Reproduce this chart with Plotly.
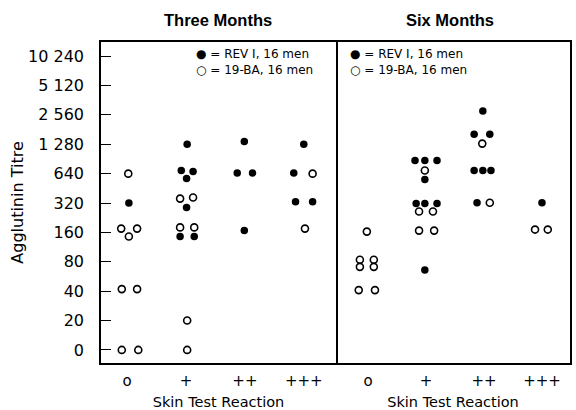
import plotly.graph_objects as go

# ---------------- data ----------------
tick_titres = [10, 20, 40, 80, 160, 320, 640, 1280, 2560, 5120, 10240]
tick_labels = ["0", "20", "40", "80", "160", "320", "640", "1 280", "2 560", "5 120", "10 240"]
reactions = ["o", "+", "++", "+++"]
reaction_pos = [0, 1, 2, 3]

# Three months, REV I (filled) -- x = skin reaction index (with plotting spread), y = titre
three_rev_x = [1.02, 1.99, 3.00, 0.92, 1.12, 1.01, 1.87, 2.13, 2.83, 1.01, 0.03, 2.86, 3.15, 0.90, 1.14, 1.99]
three_rev_y = [1280, 1370, 1280, 690, 675, 572, 650, 650, 650, 288, 320, 330, 330, 145, 145, 167]
# Three months, 19-BA (open)
three_ba_x = [0.02, 3.15, 0.90, 1.12, -0.10, 0.17, 0.03, 0.90, 1.14, 3.02, -0.09, 0.17, 1.02, -0.09, 0.19, 1.02]
three_ba_y = [640, 640, 355, 365, 175, 175, 145, 180, 180, 175, 42, 42, 20, 10, 10, 10]

# Six months, REV I (filled)
six_rev_x = [1.98, 1.83, 2.10, 0.81, 0.98, 1.19, 0.98, 1.83, 1.98, 2.12, 0.83, 0.98, 1.19, 1.88, 3.00, 0.98]
six_rev_y = [2800, 1620, 1620, 875, 875, 875, 558, 690, 690, 690, 316, 316, 316, 322, 322, 66]
# Six months, 19-BA (open)
six_ba_x = [1.97, 0.98, 0.88, 1.12, 2.10, -0.02, 0.88, 1.14, 2.88, 3.10, -0.14, 0.10, -0.14, 0.10, -0.16, 0.12]
six_ba_y = [1300, 690, 262, 262, 322, 163, 167, 167, 171, 171, 84, 84, 71, 71, 41, 41]

panel_titles = ["Three Months", "Six Months"]
legend_rev = "= REV I, 16 men"
legend_ba = "= 19-BA, 16 men"
x_title = "Skin Test Reaction"
y_title = "Agglutinin Titre"

# ---------------- figure ----------------
W, H = 576, 410
ML, MR, MT, MB = 101, 6, 42, 47
PW, PH = W - ML - MR, H - MT - MB


def px(x):
    return (x - ML) / PW


def py(y):
    return (H - MB - y) / PH


FONT = "DejaVu Sans"
fig = go.Figure()

filled = dict(symbol="circle", size=7.5, color="black", line=dict(width=0))
hollow = dict(symbol="circle-open", size=7, color="black", line=dict(width=1.6, color="black"))

fig.add_trace(go.Scatter(x=three_rev_x, y=three_rev_y, mode="markers", marker=filled,
                         xaxis="x", yaxis="y", showlegend=False))
fig.add_trace(go.Scatter(x=three_ba_x, y=three_ba_y, mode="markers", marker=hollow,
                         xaxis="x", yaxis="y", showlegend=False))
fig.add_trace(go.Scatter(x=six_rev_x, y=six_rev_y, mode="markers", marker=filled,
                         xaxis="x2", yaxis="y2", showlegend=False))
fig.add_trace(go.Scatter(x=six_ba_x, y=six_ba_y, mode="markers", marker=hollow,
                         xaxis="x2", yaxis="y2", showlegend=False))

split = (336 - ML) / PW
yrange = [0.866, 4.155]
line_style = dict(showline=True, linecolor="black", linewidth=1.5, showgrid=False,
                  zeroline=False, automargin=False)

fig.update_layout(
    width=W, height=H,
    margin=dict(l=ML, r=MR, t=MT, b=MB, pad=0, autoexpand=False),
    paper_bgcolor="white", plot_bgcolor="white",
    font=dict(family=FONT, color="black"),
    xaxis=dict(domain=[0, split], range=[-0.443, 3.547], tickvals=reaction_pos, ticktext=reactions,
               ticks="", tickfont=dict(size=15, family=FONT), ticklabelstandoff=3,
               title=dict(text=x_title, font=dict(size=14.5, family=FONT), standoff=10),
               anchor="y", mirror=True, **line_style),
    yaxis=dict(type="log", range=yrange, tickvals=tick_titres, ticktext=tick_labels,
               ticks="inside", ticklen=10, tickwidth=1.3, tickcolor="black",
               tickfont=dict(size=16, family=FONT), ticklabelstandoff=12,
               title=dict(text=y_title, font=dict(size=16, family=FONT), standoff=0),
               anchor="x", mirror=True, **line_style),
    xaxis2=dict(domain=[split, 1], range=[-0.552, 3.483], tickvals=reaction_pos, ticktext=reactions,
                ticks="", tickfont=dict(size=15, family=FONT), ticklabelstandoff=3,
                title=dict(text=x_title, font=dict(size=14.5, family=FONT), standoff=10),
                anchor="y2", mirror=True, **line_style),
    yaxis2=dict(type="log", range=yrange, showticklabels=False, ticks="", side="right",
                anchor="x2", mirror=False, **line_style),
)

# panel titles
for title, cx in zip(panel_titles, [218, 450]):
    fig.add_annotation(text="<b>" + title + "</b>", x=px(cx), y=py(20), xref="paper", yref="paper",
                       showarrow=False, xanchor="center", yanchor="middle",
                       font=dict(family="Liberation Sans", size=16.5, color="black"))

# legend keys (symbols drawn as text glyphs) inside each panel
for lx in [194, 348]:
    fig.add_annotation(text="\u25cf " + legend_rev + "<br>\u25cb " + legend_ba,
                       x=px(lx), y=py(62), xref="paper", yref="paper",
                       showarrow=False, xanchor="left", yanchor="middle", align="left",
                       font=dict(family=FONT, size=12, color="black"))

fig.write_html("out.html")
